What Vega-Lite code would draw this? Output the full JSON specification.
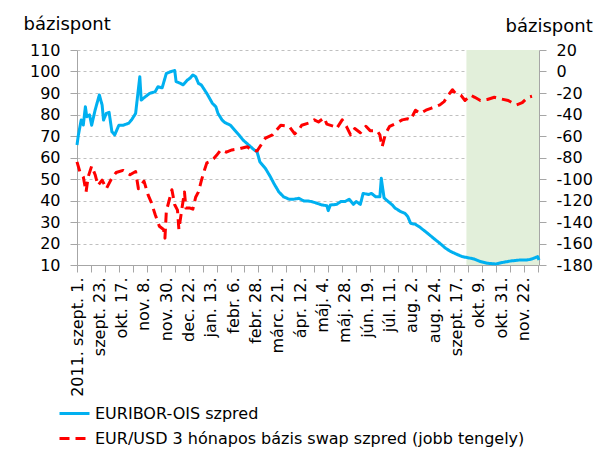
{
  "$schema": "https://vega.github.io/schema/vega-lite/v6.json",
  "width": 462,
  "height": 215,
  "autosize": {"type": "none"},
  "padding": {"left": 77, "top": 50, "right": 64, "bottom": 189},
  "background": "white",
  "config": {
    "view": {"stroke": null},
    "font": "DejaVu Sans",
    "axis": {"labelColor": "black", "labelFontSize": 16, "titleColor": "black", "titleFontWeight": "normal", "domainColor": "#a6a6a6", "tickColor": "#a6a6a6"},
    "legend": {"orient": "none", "legendX": -19, "legendY": 347, "symbolType": "stroke", "symbolSize": 900, "symbolStrokeWidth": 3, "labelFontSize": 16, "labelColor": "black", "rowPadding": -2, "labelOffset": 4, "labelLimit": 600, "direction": "vertical"}
  },
  "datasets": {
    "shade": [{"a": 279, "b": 331}],
    "eur": [
      {"i":0,"v":65.8},{"i":1,"v":70.5},{"i":3,"v":77.4},{"i":4.5,"v":75.1},{"i":6,"v":83.6},{"i":7,"v":79},{"i":9,"v":79.8},{"i":10.5,"v":75},{"i":13,"v":82.1},{"i":16,"v":89.1},{"i":18,"v":84.4},{"i":19,"v":77.4},{"i":21,"v":80.5},{"i":23,"v":81},{"i":25,"v":72},{"i":27,"v":70.5},{"i":30,"v":75},{"i":33,"v":75},{"i":37,"v":75.9},{"i":39,"v":77.4},{"i":42,"v":80.5},{"i":43.5,"v":89.1},{"i":45,"v":97.6},{"i":46,"v":86.7},{"i":49,"v":88.3},{"i":52,"v":89.8},{"i":56,"v":90.6},{"i":58,"v":92.9},{"i":61,"v":92.4},{"i":64,"v":99.1},{"i":67,"v":99.9},{"i":70,"v":100.5},{"i":71,"v":95.3},{"i":74,"v":94.5},{"i":76,"v":93.8},{"i":79,"v":96},{"i":81,"v":96.9},{"i":83,"v":98.4},{"i":85,"v":97.6},{"i":87,"v":94.5},{"i":89,"v":93.8},{"i":93,"v":89.8},{"i":97,"v":85.2},{"i":99.5,"v":83.6},{"i":101,"v":80.5},{"i":104,"v":77.4},{"i":106,"v":76.2},{"i":110,"v":75},{"i":113,"v":72.7},{"i":116,"v":70.5},{"i":119,"v":68.1},{"i":123,"v":65.8},{"i":127,"v":63.5},{"i":129,"v":62.7},{"i":131,"v":58},{"i":135,"v":54.9},{"i":138.5,"v":51.1},{"i":141,"v":48},{"i":144.5,"v":44.1},{"i":148,"v":41.7},{"i":152,"v":40.6},{"i":155,"v":40.6},{"i":159,"v":41},{"i":162.5,"v":39.8},{"i":165,"v":39.8},{"i":168,"v":39.5},{"i":172,"v":38.7},{"i":175.5,"v":37.9},{"i":179,"v":37.6},{"i":180,"v":35.3},{"i":181.5,"v":37.9},{"i":186,"v":38.2},{"i":189,"v":39.5},{"i":192,"v":39.5},{"i":195,"v":40.6},{"i":198,"v":38.2},{"i":200,"v":39.5},{"i":203,"v":38.2},{"i":205,"v":43.3},{"i":209,"v":42.8},{"i":211,"v":43.3},{"i":214,"v":41.7},{"i":217,"v":41.7},{"i":218,"v":50.3},{"i":220,"v":41.2},{"i":223,"v":39.5},{"i":226,"v":37.9},{"i":228,"v":36.4},{"i":232,"v":34.8},{"i":235,"v":34},{"i":237,"v":32.5},{"i":239,"v":29.4},{"i":242.5,"v":28.9},{"i":246,"v":27.4},{"i":252,"v":24.3},{"i":257,"v":21.6},{"i":260,"v":20.1},{"i":264,"v":17.8},{"i":268,"v":16.2},{"i":272,"v":15},{"i":276,"v":13.9},{"i":280,"v":13.4},{"i":284.5,"v":12.8},{"i":289,"v":11.6},{"i":294,"v":10.8},{"i":300,"v":10.5},{"i":305,"v":11.2},{"i":311,"v":11.9},{"i":317,"v":12.3},{"i":322,"v":12.3},{"i":326,"v":12.8},{"i":330,"v":13.9},{"i":331,"v":12.3}
    ],
    "swap": [
      {"i":0,"v":-84},{"i":2,"v":-93},{"i":4.5,"v":-98},{"i":6.5,"v":-112},{"i":8,"v":-98},{"i":10.5,"v":-88},{"i":13,"v":-96},{"i":15,"v":-106},{"i":18,"v":-101},{"i":21,"v":-109},{"i":25,"v":-99},{"i":28,"v":-94},{"i":33,"v":-92},{"i":38,"v":-96},{"i":42,"v":-93},{"i":44,"v":-109},{"i":48,"v":-102},{"i":51,"v":-115},{"i":53,"v":-121},{"i":56,"v":-133},{"i":59,"v":-144},{"i":62,"v":-147},{"i":63,"v":-155},{"i":64,"v":-130},{"i":66,"v":-120},{"i":68,"v":-110},{"i":70,"v":-124},{"i":72,"v":-129},{"i":73,"v":-147},{"i":75,"v":-129},{"i":77,"v":-112},{"i":78,"v":-127},{"i":81,"v":-127},{"i":83,"v":-128},{"i":85,"v":-117},{"i":87,"v":-112},{"i":89,"v":-102},{"i":91,"v":-93},{"i":93,"v":-85},{"i":95,"v":-84},{"i":98,"v":-81},{"i":100,"v":-78},{"i":103,"v":-73},{"i":107,"v":-75},{"i":111,"v":-73},{"i":116,"v":-72},{"i":122,"v":-70},{"i":125,"v":-73},{"i":129,"v":-74},{"i":131,"v":-70},{"i":135,"v":-62},{"i":140,"v":-59},{"i":146,"v":-50},{"i":152,"v":-51},{"i":156,"v":-58},{"i":159,"v":-54},{"i":161,"v":-50},{"i":166,"v":-48},{"i":170,"v":-45},{"i":173,"v":-47},{"i":177,"v":-43},{"i":179,"v":-49},{"i":184,"v":-51},{"i":186,"v":-53},{"i":190,"v":-45},{"i":193,"v":-51},{"i":196,"v":-59},{"i":199,"v":-53},{"i":203,"v":-57},{"i":207,"v":-51},{"i":210,"v":-55},{"i":215,"v":-55},{"i":217,"v":-59},{"i":218.6,"v":-70},{"i":221,"v":-58},{"i":224,"v":-51},{"i":229,"v":-48},{"i":233,"v":-45},{"i":237,"v":-44},{"i":239,"v":-45},{"i":242.5,"v":-36},{"i":246,"v":-39},{"i":250,"v":-36},{"i":254,"v":-34},{"i":260,"v":-31},{"i":263,"v":-28},{"i":266,"v":-22},{"i":269,"v":-17},{"i":271,"v":-20},{"i":275,"v":-22},{"i":278,"v":-27},{"i":282,"v":-22},{"i":285,"v":-24},{"i":289,"v":-27},{"i":294,"v":-26},{"i":299,"v":-24},{"i":302,"v":-25},{"i":309,"v":-27},{"i":313,"v":-30},{"i":315,"v":-31},{"i":319,"v":-29},{"i":323,"v":-24},{"i":326,"v":-23}
    ]
  },
  "layer": [
    {
      "data": {"name": "shade"},
      "mark": {"type": "rect", "color": "#e2efda"},
      "encoding": {
        "x": {"field": "a", "type": "quantitative", "scale": {"domain": [0, 331], "nice": false, "zero": false},
          "axis": {"orient": "bottom", "values": [0,10,20,30,40,50,60,70,80,90,100,110,120,130,140,150,160,170,180,190,200,210,220,230,240,250,260,270,280,290,300,310,320,330], "labels": false, "grid": false, "ticks": true, "domain": true, "tickSize": 7, "title": null}},
        "x2": {"field": "b"}
      }
    },
    {
      "data": {"name": "eur"},
      "mark": {"type": "line", "strokeWidth": 3, "strokeJoin": "round"},
      "encoding": {
        "x": {"field": "i", "type": "quantitative",
          "axis": {"orient": "bottom", "values": [0,16,32,48,64,80,96,112,128,144,160,176,192,208,224,240,256,272,288,304,320], "labelExpr": "['2011. szept. 1.','szept. 23.','okt. 17.','nov. 8.','nov. 30.','dec. 22.','jan. 13.','febr. 6.','febr. 28.','márc. 21.','ápr. 12.','máj. 4.','máj. 28.','jún. 19.','júl. 11.','aug. 2.','aug. 24.','szept. 17.','okt. 9.','okt. 31.','nov. 22.'][round(datum.value/16)]", "ticks": false, "tickSize": 0, "domain": false, "grid": false, "labelAngle": -90, "labelAlign": "right", "labelBaseline": "middle", "labelPadding": 12, "labelOverlap": false, "labelFlush": false, "labelBound": false, "title": null}},
        "y": {"field": "v", "type": "quantitative", "scale": {"domain": [10, 110], "nice": false, "zero": false},
          "axis": {"values": [10,20,30,40,50,60,70,80,90,100,110], "grid": true, "gridDash": [3, 3], "gridColor": "#c0c0c0", "tickSize": 7, "labelPadding": 10, "title": "bázispont", "titleAngle": 0, "titleAlign": "left", "titleBaseline": "alphabetic", "titleX": -54, "titleY": -21, "titleFontSize": 18}},
        "color": {"datum": "EURIBOR-OIS szpred", "type": "nominal", "scale": {"domain": ["EURIBOR-OIS szpred", "EUR/USD 3 hónapos bázis swap szpred (jobb tengely)"], "range": ["#00b0f0", "#ff0000"]}, "legend": {"title": null}},
        "strokeDash": {"datum": "EURIBOR-OIS szpred", "type": "nominal", "scale": {"domain": ["EURIBOR-OIS szpred", "EUR/USD 3 hónapos bázis swap szpred (jobb tengely)"], "range": [[1, 0], [10, 6]]}, "legend": {"title": null}}
      }
    },
    {
      "data": {"name": "swap"},
      "mark": {"type": "line", "strokeWidth": 3, "strokeJoin": "round"},
      "encoding": {
        "x": {"field": "i", "type": "quantitative", "axis": null},
        "y": {"field": "v", "type": "quantitative", "scale": {"domain": [-180, 20], "nice": false, "zero": false},
          "axis": {"orient": "right", "values": [-180,-160,-140,-120,-100,-80,-60,-40,-20,0,20], "labelExpr": "datum.value + ''", "grid": false, "tickSize": 7, "labelPadding": 10, "title": "bázispont", "titleAngle": 0, "titleAlign": "left", "titleBaseline": "alphabetic", "titleX": -34, "titleY": -19, "titleFontSize": 18}},
        "color": {"datum": "EUR/USD 3 hónapos bázis swap szpred (jobb tengely)", "type": "nominal"},
        "strokeDash": {"datum": "EUR/USD 3 hónapos bázis swap szpred (jobb tengely)", "type": "nominal"}
      }
    }
  ],
  "resolve": {"scale": {"y": "independent"}, "axis": {"x": "independent"}}
}
